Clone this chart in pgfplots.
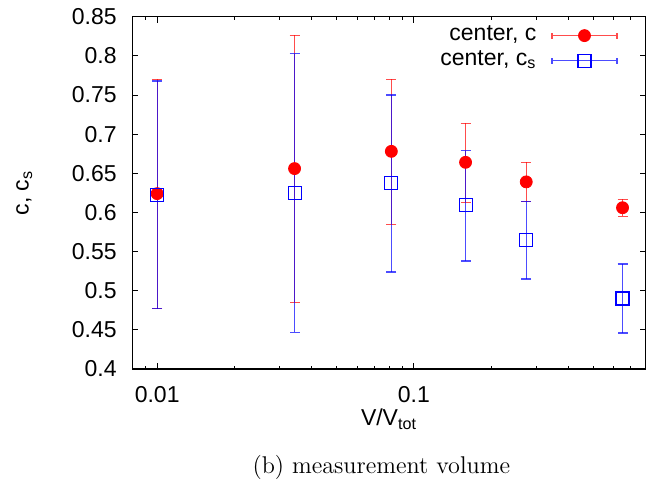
\documentclass[border=0pt]{standalone}
\usepackage{fontspec}
\usepackage{pgfplots}
\pgfplotsset{compat=1.18}
\newfontfamily\hel{Liberation Sans}
\newcommand{\chartfont}{\hel\fontsize{11.5}{13.8}\selectfont}

% c (centre) and c_s, with asymmetric error bars
\pgfplotstableread{
x      y      ep     em
0.0100 0.624  0.146  0.147
0.0343 0.656  0.170  0.171
0.0817 0.678  0.092  0.093
0.159  0.664  0.050  0.051
0.274  0.639  0.025  0.025
0.65   0.606  0.011  0.011
}\datac
\pgfplotstableread{
x      y      ep     em
0.0100 0.622  0.146  0.145
0.0343 0.625  0.178  0.178
0.0817 0.638  0.112  0.114
0.159  0.609  0.070  0.071
0.274  0.565  0.049  0.050
0.65   0.490  0.044  0.044
}\datacs

\begin{document}
\begin{tikzpicture}
\useasboundingbox (-66.15pt,-59pt) rectangle (265.85pt,184.5pt);
\begin{axis}[
  at={(0pt,0pt)}, anchor=south west,
  scale only axis, width=256.7pt, height=176.15pt,
  xmode=log, xmin=0.008, xmax=0.8, ymin=0.4, ymax=0.85,
  xtick={0.01,0.1}, xticklabels={0.01,0.1},
  minor xtick={0.008,0.009,0.02,0.03,0.04,0.05,0.06,0.07,0.08,0.09,0.2,0.3,0.4,0.5,0.6,0.7,0.8},
  ytick={0.4,0.45,0.5,0.55,0.6,0.65,0.7,0.75,0.8,0.85},
  yticklabel style={/pgf/number format/fixed, /pgf/number format/precision=2,
    anchor=east, inner sep=0pt, xshift=-7.65pt},
  xticklabel style={anchor=base, inner sep=0pt, yshift=-16.5pt},
  /pgf/number format/assume math mode=true,
  tick label style={font=\chartfont},
  major tick length=3pt, minor tick length=1.7pt,
  tick style={black, line width=0.4pt},
  axis line style={line width=0.6pt},
  xlabel={V/V\textsubscript{tot}},
  ylabel={c, c\textsubscript{s}},
  every axis x label/.style={at={(axis description cs:0.5,-0.1617)}, anchor=base, font=\chartfont},
  every axis y label/.style={at={(axis description cs:-0.2104,0.5)}, anchor=center, rotate=90, font=\chartfont},
  legend plot pos=right,
  legend cell align=right,
  legend style={draw=none, fill=none, font=\chartfont,
    at={(1,1)}, anchor=north east, xshift=-13.85pt, yshift=-3pt,
    inner sep=0pt, column sep=7.5pt, row sep=0pt,
    nodes={inner sep=0pt, text height=8.5pt, text depth=4pt}},
]
\addplot[only marks, mark=*, mark size=3pt, color=red,
  legend image code/.code={
    \draw[red, draw opacity=0.7, line width=0.6pt] (0pt,0pt) -- (32.5pt,0pt)
      (0pt,-1.5pt) -- (0pt,1.5pt) (32.5pt,-1.5pt) -- (32.5pt,1.5pt);
    \fill[red] (16.25pt,0pt) circle (3pt);},
  error bars/.cd, y dir=both, y explicit,
  error bar style={red, draw opacity=0.7, line width=0.6pt},
  error mark options={rotate=90, red, draw opacity=0.7, mark size=2.5pt, line width=0.6pt}]
  table[x=x, y=y, y error plus=ep, y error minus=em] {\datac};
\addlegendentry{center, c}
\addplot[only marks, mark=square, mark size=3.25pt, color=blue, mark options={line width=0.55pt},
  legend image code/.code={
    \draw[blue, draw opacity=0.7, line width=0.6pt] (0pt,0pt) -- (32.5pt,0pt)
      (0pt,-1.5pt) -- (0pt,1.5pt) (32.5pt,-1.5pt) -- (32.5pt,1.5pt);
    \draw[blue, line width=0.55pt] (13pt,-3.25pt) rectangle (19.5pt,3.25pt);},
  error bars/.cd, y dir=both, y explicit,
  error bar style={blue, draw opacity=0.7, line width=0.6pt},
  error mark options={rotate=90, blue, draw opacity=0.7, mark size=2.5pt, line width=0.6pt}]
  table[x=x, y=y, y error plus=ep, y error minus=em] {\datacs};
\addlegendentry{center, c\textsubscript{s}}
\end{axis}
\node[anchor=base, font=\fontsize{12.1}{14}\selectfont] at (124.5pt,-52pt) {(b) measurement volume};
\end{tikzpicture}
\end{document}
